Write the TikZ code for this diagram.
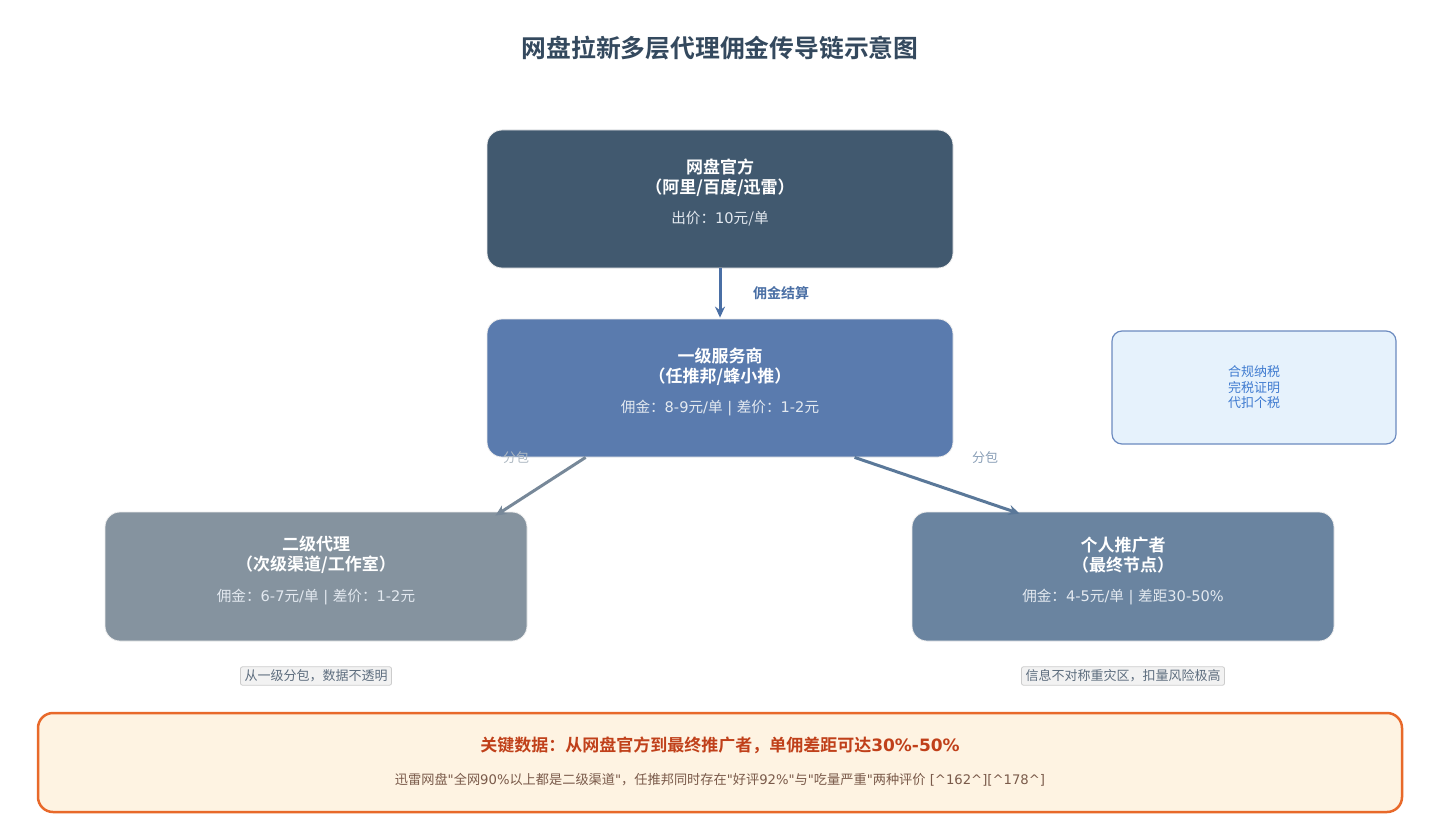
\documentclass[tikz,border=0pt]{standalone}
\usepackage{fontspec}
\setmainfont{Noto Sans CJK SC}
\newfontfamily\cjkb{Noto Sans CJK SC Bold}
\newfontfamily\dv{DejaVu Sans}
\usetikzlibrary{arrows.meta,calc}
\definecolor{cTitle}{HTML}{34495E}
\definecolor{cTop}{HTML}{41596F}
\definecolor{cMid}{HTML}{5A7BAE}
\definecolor{cLeft}{HTML}{85939F}
\definecolor{cRight}{HTML}{6A84A0}
\definecolor{cTaxF}{HTML}{E6F2FC}
\definecolor{cTaxD}{HTML}{6C8BC0}
\definecolor{cTaxT}{HTML}{3F7BD0}
\definecolor{cArrA}{HTML}{4A6FA5}
\definecolor{cArrL}{HTML}{778899}
\definecolor{cArrR}{HTML}{5A7899}
\definecolor{cBotF}{HTML}{FEF3E2}
\definecolor{cBotD}{HTML}{E8692A}
\definecolor{cBotT}{HTML}{C0401A}
\definecolor{cBotS}{HTML}{7A5A4A}
\definecolor{cDetail}{HTML}{E3E9F0}
\tikzset{
  box/.style={draw=white!85!gray, line width=0.8pt, rounded corners=15pt, inner sep=0pt},
  boxtitle/.style={text=white, font=\cjkb\fontsize{17}{20}\selectfont, align=center, inner sep=0pt},
  boxdetail/.style={text=cDetail, font=\fontsize{14.6}{16}\selectfont, inner sep=0pt},
  notebox/.style={draw=black!20, fill=black!5, line width=0.8pt, rounded corners=2pt, inner xsep=4pt, inner ysep=3pt, text=cTitle!80, font=\fontsize{13}{15}\selectfont},
  flow/.style={line width=3pt, -{Stealth[length=11pt,width=10pt]}},
  fenbao/.style={font=\fontsize{13}{15}\selectfont, inner sep=0pt}
}
\begin{document}
\begin{tikzpicture}[x=1pt,y=-1pt]
\useasboundingbox[fill=white] (0,0) rectangle (1440,824);
\node[text=cTitle, font=\cjkb\fontsize{24.8}{28}\selectfont, inner sep=0pt] (title) at (720,48) {网盘拉新多层代理佣金传导链示意图};

% top
\node[box, fill=cTop, minimum width=466pt, minimum height=138pt] (top) at (720,199) {};
\node[boxtitle] (topt) at (720,178) {网盘官方\\（阿里/百度/迅雷）};
\node[boxdetail] (topd) at (720,219) {出价：{\dv 10}元/{\dv}单};

% middle
\node[box, fill=cMid, minimum width=466pt, minimum height=138pt] (mid) at (720,388) {};
\node[boxtitle] (midt) at (720,367) {一级服务商\\（任推邦/蜂小推）};
\node[boxdetail] (midd) at (720,408) {佣金：{\dv 8-9}元{\dv /}单{\dv\ |\ }差价：{\dv 1-2}元};

% tax
\node[draw=cTaxD, fill=cTaxF, line width=1.2pt, rounded corners=10pt, minimum width=284pt, minimum height=113pt] (tax) at (1254,387.5) {};
\node[text=cTaxT, font=\fontsize{13}{15.5}\selectfont, align=center, inner sep=0pt] (taxt) at (1254,387.5) {合规纳税\\完税证明\\代扣个税};

% left
\node[box, fill=cLeft, minimum width=422pt, minimum height=129pt] (left) at (316,576.5) {};
\node[boxtitle] (leftt) at (316,555) {二级代理\\（次级渠道/工作室）};
\node[boxdetail] (leftd) at (316,597) {佣金：{\dv 6-7}元{\dv /}单{\dv\ |\ }差价：{\dv 1-2}元};
\node[notebox] (leftn) at (316,676) {从一级分包，数据不透明};

% right
\node[box, fill=cRight, minimum width=422pt, minimum height=129pt] (right) at (1123,576.5) {};
\node[boxtitle] (rightt) at (1123,555) {个人推广者\\（最终节点）};
\node[boxdetail] (rightd) at (1123,597) {佣金：{\dv 4-5}元{\dv /}单{\dv\ |\ }差距{\dv 30-50\%}};
\node[notebox] (rightn) at (1123,676) {信息不对称重灾区，扣量风险极高};

% arrows
\coordinate (aL0) at ($(mid.south west)+(99,0)$);
\coordinate (aL1) at ($(left.north east)+(-32,4)$);
\coordinate (aR0) at ($(mid.south west)+(368,0)$);
\coordinate (aR1) at ($(right.north west)+(108,2)$);
\draw[flow, draw=cArrA] (top.south) -- ($(mid.north)+(0,-1)$);
\node[text=cArrA, font=\cjkb\fontsize{14}{16}\selectfont, inner sep=0pt] (lab1) at (781,293) {佣金结算};
\draw[flow, draw=cArrL] (aL0) -- (aL1);
\draw[flow, draw=cArrR] (aR0) -- (aR1);
\node[fenbao, text=cArrL!60] (fb1) at (516,458) {分包};
\node[fenbao, text=cArrR!70] (fb2) at (985,458) {分包};

% bottom
\node[draw=cBotD, fill=cBotF, line width=2.5pt, rounded corners=15pt, minimum width=1364pt, minimum height=99pt] (bot) at (720,762.5) {};
\node[text=cBotT, font=\cjkb\fontsize{17}{20}\selectfont, inner sep=0pt] (bott) at (720,745) {关键数据：从网盘官方到最终推广者，单佣差距可达{\dv\bfseries 30\%-50\%}};
\node[text=cBotS, font=\fontsize{13.2}{16}\selectfont, inner sep=0pt] (bots) at (720,780) {迅雷网盘{\dv "}全网{\dv 90\%}以上都是二级渠道{\dv "}，任推邦同时存在{\dv "}好评{\dv 92\%"}与{\dv "}吃量严重{\dv "}两种评价{\dv\ [\^{}162\^{}][\^{}178\^{}]}};
\end{tikzpicture}
\end{document}
